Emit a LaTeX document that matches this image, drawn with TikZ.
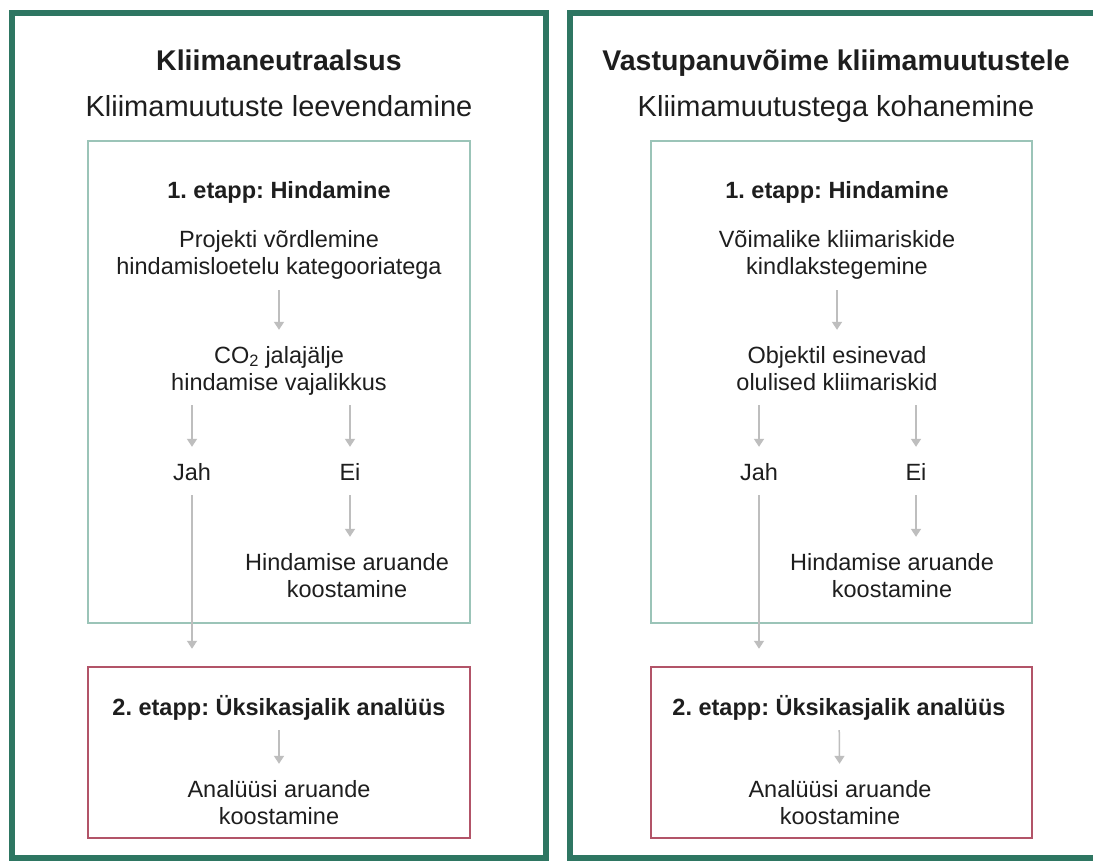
\documentclass[tikz,border=0pt]{standalone}
\usepackage{fontspec}
\setmainfont{Liberation Sans}
\frenchspacing
\usetikzlibrary{arrows.meta}
\definecolor{outg}{RGB}{46,118,98}
\definecolor{ing}{RGB}{155,196,184}
\definecolor{redc}{RGB}{178,84,104}
\definecolor{arrg}{RGB}{190,190,190}
\definecolor{txt}{RGB}{30,30,30}
\begin{document}
\begin{tikzpicture}[x=1pt,y=-1pt,
  outerbox/.style={draw=outg,line width=6pt,rectangle,inner sep=0pt},
  stageone/.style={draw=ing,line width=2.5pt,rectangle,inner sep=0pt},
  stagetwo/.style={draw=redc,line width=2.5pt,rectangle,inner sep=0pt},
  ttl/.style={font=\fontsize{28.5}{34}\selectfont\bfseries,text=txt,text height=21pt,text depth=6pt,inner sep=0pt},
  sub/.style={font=\fontsize{29}{34}\selectfont,text=txt,text height=21pt,text depth=6pt,inner sep=0pt},
  hd/.style={font=\fontsize{23.5}{27}\selectfont\bfseries,text=txt,text height=17pt,text depth=5pt,inner sep=0pt},
  tx/.style={font=\fontsize{23.5}{27}\selectfont,text=txt,text height=17pt,text depth=5pt,inner sep=0pt},
  txx/.style={tx,align=center,text height=44pt,text depth=5pt},
  arr/.style={draw=arrg,line width=1.5pt,-{Triangle[width=10pt,length=8pt]},shorten <=10pt,shorten >=16pt}]
\useasboundingbox (0,0) rectangle (1093,861);
\clip (0,0) rectangle (1093,861);
\fill[white] (0,0) rectangle (1093,861);
% panels
\node[outerbox,minimum width=534pt,minimum height=845pt] (p1) at (279,435.5) {};
\node[outerbox,minimum width=544pt,minimum height=845pt] (p2) at (842,435.5) {};
% stage boxes
\node[stageone,minimum width=382pt,minimum height=482pt] (g1) at (279,382) {};
\node[stagetwo,minimum width=382pt,minimum height=171pt] (r1) at (279,752.5) {};
\node[stageone,minimum width=381pt,minimum height=482pt] (g2) at (841.5,382) {};
\node[stagetwo,minimum width=381pt,minimum height=171pt] (r2) at (841.5,752.5) {};
% left panel
\node[ttl] (t1) at (279,63.5) {Kliimaneutraalsus};
\node[sub] (s1) at (279,109.5) {Kliimamuutuste leevendamine};
\node[hd] (h1) at (279,193) {1. etapp: Hindamine};
\node[txx] (a1) at (279,255.5) {Projekti võrdlemine\\hindamisloetelu kategooriatega};
\node[txx] (b1) at (279,370.5) {CO\textsubscript{2} jalajälje\\hindamise vajalikkus};
\node[tx] (j1) at (192,474) {Jah};
\node[tx] (e1) at (350,474) {Ei};
\node[txx] (c1) at (347,577.5) {Hindamise aruande\\koostamine};
\node[hd] (k1) at (279,709) {2. etapp: Üksikasjalik analüüs};
\node[txx] (d1) at (279,804.5) {Analüüsi aruande\\koostamine};
\draw[arr] (a1) -- (b1);
\draw[arr] (b1.south -| j1) -- (j1);
\draw[arr] (b1.south -| e1) -- (e1);
\draw[arr] (e1) -- (e1 |- c1.north);
\draw[arr,shorten >=17pt] (j1) -- (j1 |- r1.north);
\draw[arr] (k1) -- (d1);
% right panel
\node[ttl] (t2) at (836,63.5) {Vastupanuvõime kliimamuutustele};
\node[sub] (s2) at (836,109.5) {Kliimamuutustega kohanemine};
\node[hd] (h2) at (837,193) {1. etapp: Hindamine};
\node[txx] (a2) at (837,255.5) {Võimalike kliimariskide\\kindlakstegemine};
\node[txx] (b2) at (837,370.5) {Objektil esinevad\\olulised kliimariskid};
\node[tx] (j2) at (759,474) {Jah};
\node[tx] (e2) at (916,474) {Ei};
\node[txx] (c2) at (892,577.5) {Hindamise aruande\\koostamine};
\node[hd] (k2) at (839,709) {2. etapp: Üksikasjalik analüüs};
\node[txx] (d2) at (840,804.5) {Analüüsi aruande\\koostamine};
\draw[arr] (a2) -- (b2);
\draw[arr] (b2.south -| j2) -- (j2);
\draw[arr] (b2.south -| e2) -- (e2);
\draw[arr] (e2) -- (e2 |- c2.north);
\draw[arr,shorten >=17pt] (j2) -- (j2 |- r2.north);
\draw[arr] (k2) -- (d2);
\end{tikzpicture}
\end{document}
